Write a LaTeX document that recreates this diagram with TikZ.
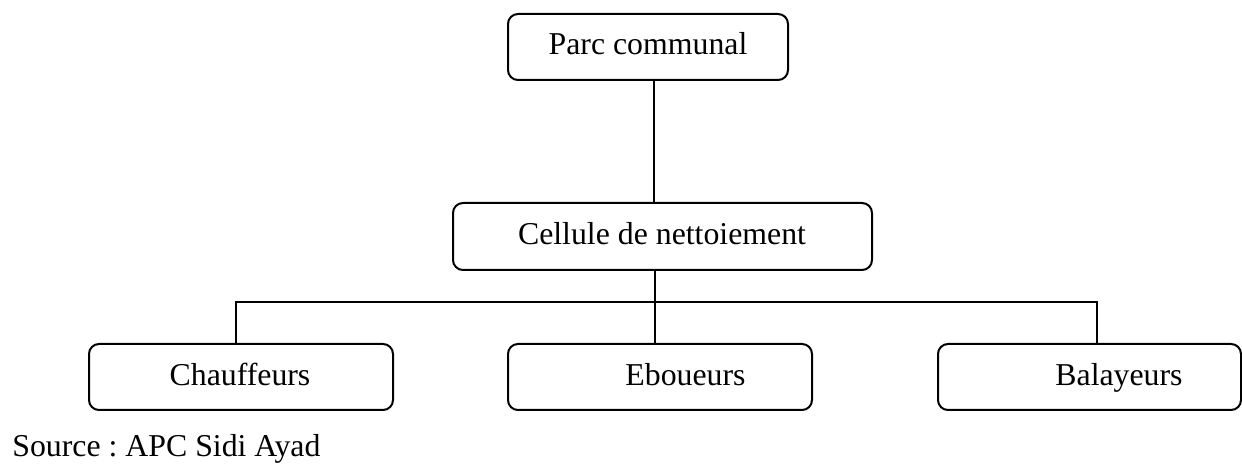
\documentclass[tikz,border=0pt]{standalone}
\usepackage{fontspec}
\setmainfont{Liberation Serif}
\frenchspacing
\begin{document}
\begin{tikzpicture}[x=0.5pt,y=-0.5pt,
  box/.style={draw, line width=1pt, rounded corners=5pt, inner sep=0pt},
  lbl/.style={anchor=base, inner sep=0pt},
  conn/.style={line width=0.8pt},
  font=\fontsize{15.9}{19}\selectfont]
\useasboundingbox (0,0) rectangle (1242,464);
\node[box, minimum width=140pt, minimum height=33pt] (parc) at (648,47) {};
\node[lbl] (parct) at (648,55) {Parc communal};
\node[box, minimum width=209.5pt, minimum height=33.5pt] (cell) at (662.5,236.5) {};
\node[lbl] (cellt) at (662,245) {Cellule de nettoiement};
\node[box, minimum width=152pt, minimum height=33pt] (chauf) at (241,377) {};
\node[lbl] (chauft) at (240,386) {Chauffeurs};
\node[box, minimum width=152pt, minimum height=33pt] (ebo) at (660,377) {};
\node[lbl] (ebot) at (685.5,386) {Eboueurs};
\node[box, minimum width=151.5pt, minimum height=33pt] (bal) at (1089.5,377) {};
\node[lbl] (balt) at (1119,386) {Balayeurs};
\coordinate (xa) at (654,0);
\coordinate (xb) at (655,0);
\coordinate (hl) at (236,302);
\coordinate (hr) at (1097,302);
\draw[conn] (parc.south -| xa) -- (cell.north -| xa);
\draw[conn] (cell.south -| xb) -- (ebo.north -| xb);
\draw[conn] (chauf.north -| hl) -- (hl) -- (hr) -- (bal.north -| hr);
\node[anchor=base west, inner sep=0pt] (src) at (12,457) {Source : APC Sidi Ayad};
\end{tikzpicture}
\end{document}
